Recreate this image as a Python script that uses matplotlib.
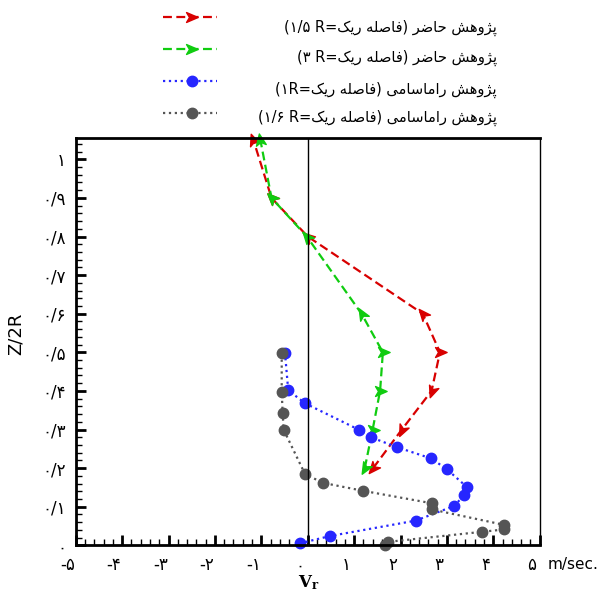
import matplotlib
matplotlib.use('Agg')
import matplotlib.pyplot as plt
from matplotlib.lines import Line2D
from matplotlib.markers import MarkerStyle
from matplotlib.path import Path
from matplotlib.transforms import Affine2D, ScaledTranslation

plt.rcParams['font.family'] = ['DejaVu Sans']
plt.rcParams['mathtext.fontset'] = 'dejavuserif'

# ---- data ----
z_red = [0.2, 0.3, 0.4, 0.5, 0.6, 0.8, 0.9, 1.05]
v_red = [1.41, 2.03, 2.67, 2.85, 2.48, 0.0, -0.78, -1.17]
z_green = [0.2, 0.3, 0.4, 0.5, 0.6, 0.8, 0.9, 1.05]
v_green = [1.23, 1.40, 1.56, 1.62, 1.16, -0.02, -0.78, -1.02]
z_blue = [0.005, 0.024, 0.064, 0.102, 0.130, 0.150, 0.197, 0.225, 0.254, 0.280, 0.299, 0.368, 0.402, 0.499]
v_blue = [-0.17, 0.48, 2.33, 3.16, 3.37, 3.44, 3.00, 2.66, 1.93, 1.36, 1.11, -0.06, -0.42, -0.49]
z_gray = [0.0, 0.009, 0.035, 0.041, 0.053, 0.093, 0.109, 0.141, 0.162, 0.185, 0.300, 0.342, 0.398, 0.499]
v_gray = [1.67, 1.74, 3.76, 4.23, 4.23, 2.67, 2.67, 1.20, 0.32, -0.06, -0.52, -0.54, -0.56, -0.56]

x_ticks = [-5, -4, -3, -2, -1, 0, 1, 2, 3, 4, 5]
x_ticklabels = ['-۵', '-۴', '-۳', '-۲', '-۱', '۰', '۱', '۲', '۳', '۴', '۵']
y_ticks = [0, 0.1, 0.2, 0.3, 0.4, 0.5, 0.6, 0.7, 0.8, 0.9, 1.0]
y_ticklabels = ['۰', '۰/۱', '۰/۲', '۰/۳', '۰/۴', '۰/۵', '۰/۶', '۰/۷', '۰/۸', '۰/۹', '۱']

legend_names = ['پژوهش حاضر', 'پژوهش حاضر', 'پژوهش راماسامی', 'پژوهش راماسامی']
legend_spacing = ['(۱/۵ R=', '(۳ R=', '(۱R=', '(۱/۶ R=']

# arrow orientation at each point (deg, 0 = up)
red_rot = [140, 155, 160, -90, 40, 50, 45, 20]
green_rot = [150, -90, -90, -90, 30, 40, 45, 10]

# ---- minimal persian shaping (presentation forms) ----
FORMS = {  # isolated, final, initial, medial
    'پ': ('\uFB56', '\uFB57', '\uFB58', '\uFB59'),
    'ژ': ('\uFB8A', '\uFB8B', None, None),
    'و': ('\uFEED', '\uFEEE', None, None),
    'ه': ('\uFEE9', '\uFEEA', '\uFEEB', '\uFEEC'),
    'ش': ('\uFEB5', '\uFEB6', '\uFEB7', '\uFEB8'),
    'ح': ('\uFEA1', '\uFEA2', '\uFEA3', '\uFEA4'),
    'ا': ('\uFE8D', '\uFE8E', None, None),
    'ض': ('\uFEBD', '\uFEBE', '\uFEBF', '\uFEC0'),
    'ر': ('\uFEAD', '\uFEAE', None, None),
    'ف': ('\uFED1', '\uFED2', '\uFED3', '\uFED4'),
    'ص': ('\uFEB9', '\uFEBA', '\uFEBB', '\uFEBC'),
    'ل': ('\uFEDD', '\uFEDE', '\uFEDF', '\uFEE0'),
    'ی': ('\uFBFC', '\uFBFD', '\uFBFE', '\uFBFF'),
    'ک': ('\uFB8E', '\uFB8F', '\uFB90', '\uFB91'),
    'م': ('\uFEE1', '\uFEE2', '\uFEE3', '\uFEE4'),
    'س': ('\uFEB1', '\uFEB2', '\uFEB3', '\uFEB4'),
}


def rtl(text):
    # shape each word and return it in visual (left to right) order
    out = []
    for w in text.split(' '):
        s = ''
        for i, ch in enumerate(w):
            f = FORMS[ch]
            prev_j = i > 0 and FORMS[w[i - 1]][2] is not None
            next_j = i < len(w) - 1 and f[2] is not None
            if prev_j and next_j:
                s += f[3]
            elif prev_j:
                s += f[1]
            elif next_j:
                s += f[2]
            else:
                s += f[0]
        out.append(s[::-1])
    return ' '.join(out[::-1])


def fx(px):
    return px / 606


def fy(py):
    return 1 - py / 592


fig = plt.figure(figsize=(6.06, 5.92), dpi=100)
ax = fig.add_axes([fx(75.7), fy(545.3), 464 / 606, 407.2 / 592])

arrow = Path([(0, 1), (-0.75, -0.75), (0, -0.3), (0.75, -0.75), (0, 1)],
             [Path.MOVETO, Path.LINETO, Path.LINETO, Path.LINETO, Path.CLOSEPOLY])


def arrow_marker(a):
    return MarkerStyle(arrow, transform=Affine2D().rotate_deg(a))


red = '#d80000'
green = '#10cc10'
blue = '#2626ff'
gray = '#555555'
colors = [red, green, blue, gray]
kinds = ['dash', 'dash', 'dot', 'dot']
dash = (4, 2)

ax.plot(v_red, z_red, color=red, lw=1.6, dashes=dash, clip_on=False)
for v, z, a in zip(v_red, z_red, red_rot):
    ax.plot(v, z, marker=arrow_marker(a), ms=9.5, color=red, clip_on=False)
ax.plot(v_green, z_green, color=green, lw=1.6, dashes=dash, clip_on=False)
for v, z, a in zip(v_green, z_green, green_rot):
    ax.plot(v, z, marker=arrow_marker(a), ms=9.5, color=green, clip_on=False)
ax.plot(v_blue, z_blue, color=blue, lw=1.6, ls=':', marker='o', ms=7.5, clip_on=False)
ax.plot(v_gray, z_gray, color=gray, lw=1.6, ls=':', marker='o', ms=7.5, clip_on=False)

ax.axvline(0, color='k', lw=1)

ax.set_xlim(-5, 5)
ax.set_ylim(0, 1.055)
ax.set_xticks(x_ticks)
ax.set_xticklabels(x_ticklabels, fontsize=12)
ax.set_yticks(y_ticks)
ax.set_yticklabels(y_ticklabels, fontsize=12)
ax.set_xticks([x / 5 for x in range(-25, 26)], minor=True)
ax.set_yticks([y / 50 for y in range(0, 53)], minor=True)
ax.tick_params(which='major', direction='in', length=7, width=2, pad=8)
ax.tick_params(which='minor', direction='in', length=4, width=1)
ax.tick_params(axis='y', pad=7)
for lab in ax.get_xticklabels():
    lab.set_transform(lab.get_transform() + ScaledTranslation(-0.08, 0, fig.dpi_scale_trans))
for s in ['left', 'bottom', 'top']:
    ax.spines[s].set_linewidth(2)
ax.spines['right'].set_linewidth(1)

ax.set_ylabel('Z/2R', fontsize=13)
ax.yaxis.set_label_coords(-0.11, 0.52)
fig.text(fx(548), fy(564), 'm/sec.', fontsize=11, va='center', ha='left')
fig.text(fx(309), fy(583), r'$\mathbf{V}_{\mathbf{r}}$', fontsize=12, ha='center', va='center')

# ---- legend drawn by hand, text right aligned like the original ----
line_y = [17, 49, 81, 113]
text_y = [28, 58, 90, 118]
for c, kind, name, sp, ly, ty in zip(colors, kinds, legend_names, legend_spacing, line_y, text_y):
    if kind == 'dash':
        fig.add_artist(Line2D([fx(163), fx(217)], [fy(ly), fy(ly)], color=c, lw=1.6,
                              dashes=dash))
        fig.add_artist(Line2D([fx(191)], [fy(ly)], color=c, marker=arrow_marker(-90), ms=9.5))
    else:
        fig.add_artist(Line2D([fx(163), fx(217)], [fy(ly), fy(ly)], color=c, lw=1.6, ls=':'))
        fig.add_artist(Line2D([fx(192)], [fy(ly)], color=c, marker='o', ms=7.5))
    label = sp + rtl('فاصله ریک') + ') ' + rtl(name)
    fig.text(fx(497), fy(ty), label, fontsize=10.5, ha='right', va='center')

fig.savefig('out.png', dpi=100)
